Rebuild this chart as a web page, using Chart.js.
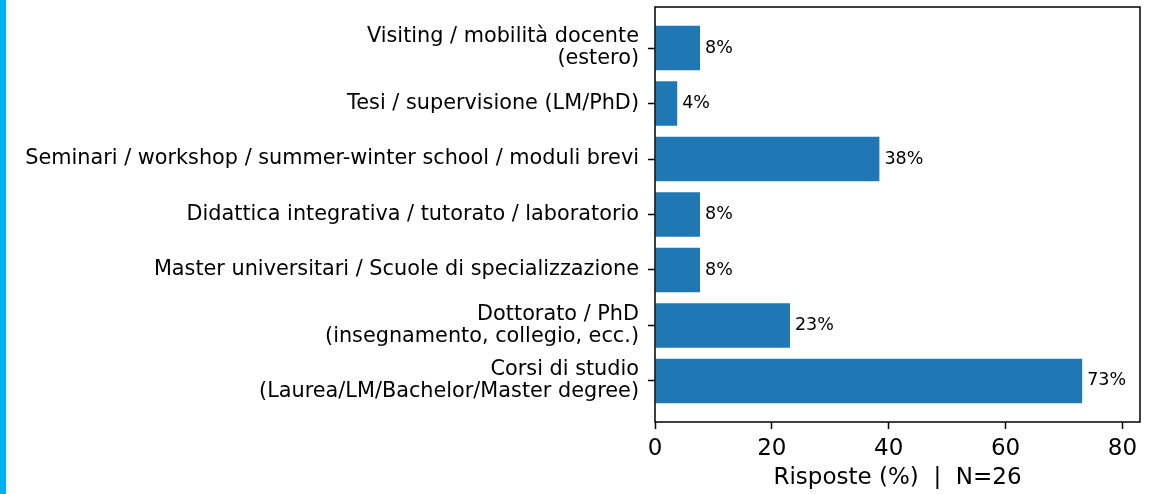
<!DOCTYPE html>
<html>
<head>
<meta charset="utf-8">
<script src="https://cdn.jsdelivr.net/npm/chart.js@4"></script>
<style>
  html, body { margin: 0; padding: 0; background: #fff; }
  #wrap { position: relative; width: 1163px; height: 494px; }
  #stripe { position: absolute; left: 0; top: 0; width: 6px; height: 494px; background: #00b0f0; }
</style>
</head>
<body>
<div id="wrap">
  <canvas id="chart" width="1163" height="494"></canvas>
  <div id="stripe"></div>
</div>
<script>
// categories, bottom to top
const categories = [
  ["Corsi di studio", "(Laurea/LM/Bachelor/Master degree)"],
  ["Dottorato / PhD", "(insegnamento, collegio, ecc.)"],
  "Master universitari / Scuole di specializzazione",
  "Didattica integrativa / tutorato / laboratorio",
  "Seminari / workshop / summer-winter school / moduli brevi",
  "Tesi / supervisione (LM/PhD)",
  ["Visiting / mobilità docente", "(estero)"]
];
const percentages = [73.1, 23.1, 7.7, 7.7, 38.4, 3.8, 7.7];
const xTicks = [0, 20, 40, 60, 80];
const xTitle = "Risposte (%)  |  N=26";

const font = "'DejaVu Sans', sans-serif";

// draws the full box around the plot area (matplotlib spines)
const boxPlugin = {
  id: "box",
  afterDraw(chart) {
    const a = chart.chartArea;
    const ctx = chart.ctx;
    ctx.save();
    ctx.strokeStyle = "#000";
    ctx.lineWidth = 1.5;
    ctx.strokeRect(a.left, a.top, a.right - a.left, a.bottom - a.top);
    ctx.restore();
  }
};

// percentage labels right of each bar
const valueLabels = {
  id: "valueLabels",
  afterDatasetsDraw(chart) {
    const ctx = chart.ctx;
    const meta = chart.getDatasetMeta(0);
    ctx.save();
    ctx.font = "17.5px " + font;
    ctx.fillStyle = "#000";
    ctx.textAlign = "left";
    ctx.textBaseline = "middle";
    meta.data.forEach((bar, i) => {
      ctx.fillText(Math.round(percentages[i]) + "%", bar.x + 5, bar.y);
    });
    ctx.restore();
  }
};

const ctx = document.getElementById("chart").getContext("2d");
new Chart(ctx, {
  type: "bar",
  data: {
    datasets: [{
      data: percentages.map((v, i) => ({ x: v, y: i })),
      backgroundColor: "#1f77b4",
      borderWidth: 0,
      barPercentage: 0.8,
      categoryPercentage: 1
    }]
  },
  options: {
    indexAxis: "y",
    responsive: false,
    animation: false,
    layout: { padding: { top: 7, right: 23, left: 0, bottom: 0 } },
    plugins: {
      legend: { display: false },
      tooltip: { enabled: false }
    },
    scales: {
      x: {
        type: "linear",
        min: 0,
        max: 83,
        afterBuildTicks: (scale) => { scale.ticks = xTicks.map(v => ({ value: v })); },
        afterFit: (scale) => {
          scale.height = 72;
          scale.paddingLeft = 0;
          scale.paddingRight = 0;
        },
        grid: { drawOnChartArea: false, drawTicks: true, tickLength: 7, tickWidth: 1.5, color: "#000" },
        border: { display: false },
        ticks: { color: "#000", font: { family: font, size: 23 }, padding: 6, maxRotation: 0 },
        title: { display: true, text: xTitle, color: "#000", font: { family: font, size: 23 }, padding: { top: 2, bottom: 2 } }
      },
      y: {
        type: "linear",
        offset: false,
        min: -0.74,
        max: 6.74,
        afterBuildTicks: (scale) => { scale.ticks = categories.map((c, i) => ({ value: i })); },
        afterFit: (scale) => {
          scale.width = 655;
          scale.paddingTop = 0;
          scale.paddingBottom = 0;
        },
        grid: { offset: false, drawOnChartArea: false, drawTicks: true, tickLength: 7, tickWidth: 1.5, color: "#000" },
        border: { display: false },
        ticks: {
          color: "#000",
          font: { family: font, size: 20.8, lineHeight: 1.06 },
          padding: 9,
          callback: (v) => categories[v]
        }
      }
    }
  },
  plugins: [boxPlugin, valueLabels]
});
</script>
</body>
</html>
